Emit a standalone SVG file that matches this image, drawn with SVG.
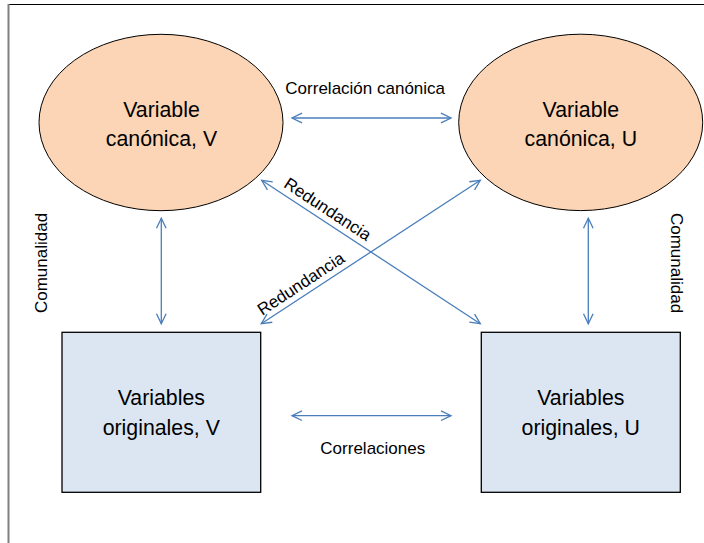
<svg xmlns="http://www.w3.org/2000/svg" width="704" height="543" viewBox="0 0 704 543">
  <style>
    .ell { fill: #fbd5b5; stroke: #000; stroke-width: 1; }
    .box { fill: #dce6f2; stroke: #000; stroke-width: 1.3; }
    .node { font-family: "Liberation Sans", Arial, sans-serif; font-size: 21.3px; fill: #000; text-anchor: middle; }
    .lbl { font-family: "Liberation Sans", Arial, sans-serif; font-size: 17px; fill: #000; text-anchor: middle; }
    .conn { stroke: #4a7ebb; stroke-width: 1.3; fill: none; marker-start: url(#ah); marker-end: url(#ah); }
  </style>
  <defs>
    <marker id="ah" markerUnits="userSpaceOnUse" markerWidth="14" markerHeight="12" refX="11" refY="6" orient="auto-start-reverse" viewBox="0 0 14 12">
      <path d="M1,1.2 L11,6 L1,10.8" fill="none" stroke="#4a7ebb" stroke-width="1.3"/>
    </marker>
  </defs>
  <rect x="0" y="0" width="704" height="543" fill="#fff"/>
  <g id="frame">
    <line x1="8" y1="4.5" x2="704" y2="4.5" stroke="#000" stroke-width="1.2"/>
    <line x1="8.5" y1="4" x2="8.5" y2="543" stroke="#808080" stroke-width="2"/>
  </g>
  <g id="connectors">
    <line class="conn" x1="292" y1="118" x2="451" y2="118"/>
    <line class="conn" x1="292" y1="415.7" x2="451" y2="415.7"/>
    <line class="conn" x1="161.3" y1="218.3" x2="161.3" y2="323.7"/>
    <line class="conn" x1="588.3" y1="218.3" x2="588.3" y2="323.7"/>
    <line class="conn" x1="261.7" y1="180.3" x2="480.3" y2="323.7"/>
    <line class="conn" x1="480.3" y1="180.3" x2="261.3" y2="323.7"/>
  </g>
  <g id="labels">
    <text class="lbl" x="365.2" y="94">Correlación canónica</text>
    <text class="lbl" x="372.8" y="453.7">Correlaciones</text>
    <text class="lbl" transform="translate(324.5,214) rotate(33.3)">Redundancia</text>
    <text class="lbl" transform="translate(304,288.5) rotate(-33.3)">Redundancia</text>
    <text class="lbl" transform="translate(46.5,263) rotate(-90)">Comunalidad</text>
    <text class="lbl" transform="translate(670.5,263) rotate(90)">Comunalidad</text>
  </g>
  <g id="canonica-v">
    <ellipse class="ell" cx="161" cy="122.5" rx="122" ry="88.2"/>
    <text class="node" x="161.5" y="116.7">Variable</text>
    <text class="node" x="161.5" y="146">canónica, V</text>
  </g>
  <g id="canonica-u">
    <ellipse class="ell" cx="580.7" cy="122.4" rx="122" ry="88.2"/>
    <text class="node" x="580.8" y="116.7">Variable</text>
    <text class="node" x="580.8" y="146">canónica, U</text>
  </g>
  <g id="originales-v">
    <rect class="box" x="62" y="332.3" width="198.7" height="160"/>
    <text class="node" x="161.3" y="405.3">Variables</text>
    <text class="node" x="161.3" y="434.7">originales, V</text>
  </g>
  <g id="originales-u">
    <rect class="box" x="481.3" y="332.3" width="199" height="160"/>
    <text class="node" x="580.8" y="405.3">Variables</text>
    <text class="node" x="580.8" y="434.7">originales, U</text>
  </g>
</svg>
